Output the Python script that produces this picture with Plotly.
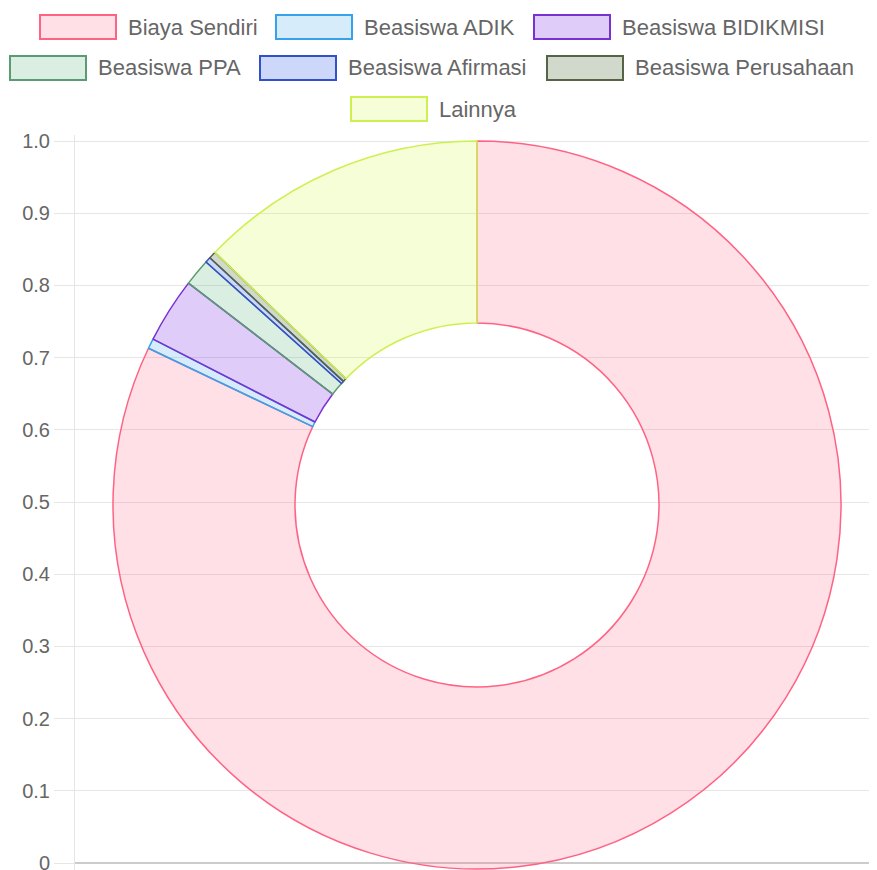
import plotly.graph_objects as go

labels = ["Biaya Sendiri", "Beasiswa ADIK", "Beasiswa BIDIKMISI", "Beasiswa PPA",
          "Beasiswa Afirmasi", "Beasiswa Perusahaan", "Lainnya"]
values = [82.1, 0.45, 2.9, 1.2, 0.25, 0.32, 12.8]
fill_colors = ["rgba(255,99,132,0.2)", "rgba(54,162,235,0.2)", "rgba(130,50,230,0.25)",
               "rgba(75,170,110,0.2)", "rgba(40,80,230,0.23)", "rgba(70,100,50,0.25)",
               "rgba(210,250,60,0.2)"]
border_colors = ["rgb(255,99,132)", "rgb(54,162,235)", "rgb(120,50,210)",
                 "rgb(90,155,115)", "rgb(50,80,200)", "rgb(85,100,70)",
                 "rgb(205,240,80)"]
y_ticks = [0, 0.1, 0.2, 0.3, 0.4, 0.5, 0.6, 0.7, 0.8, 0.9, 1.0]
y_ticktext = ["0", "0.1", "0.2", "0.3", "0.4", "0.5", "0.6", "0.7", "0.8", "0.9", "1.0"]

# page has an 8px body margin; figure is sized to fill the rest of the window
OFF = 8
W, H = 877 - OFF, 870 - OFF
ML, MR, MT, MB = 75 - OFF, 0, 135 - OFF, 0
PW, PH = W - ML - MR, H - MT - MB

def px_x(x):  # screenshot pixel -> paper
    return (x - OFF - ML) / PW

def px_y(y):
    return (H - MB - (y - OFF)) / PH

FONT = "Liberation Sans, Arial, Helvetica, sans-serif"
GREY = "#666666"

fig = go.Figure()
fig.add_trace(go.Scatter(x=[0.5], y=[0.5], mode="markers", marker=dict(opacity=0),
                         hoverinfo="skip", showlegend=False))

fig.add_trace(go.Pie(
    labels=labels, values=values, sort=False, direction="clockwise", rotation=0,
    hole=0.5, textinfo="none", showlegend=False,
    marker=dict(colors=fill_colors, line=dict(color=border_colors, width=1.5)),
    domain=dict(x=[px_x(113), px_x(841)], y=[max(0, px_y(869)), px_y(141)]),
))

legend_rows = [
    [(0, 40), (1, 276), (2, 534)],
    [(3, 10), (4, 260), (5, 547)],
    [(6, 351)],
]
row_centers = [27, 68, 109]
shapes = []
annotations = []
for row, yc in zip(legend_rows, row_centers):
    for idx, x0 in row:
        shapes.append(dict(type="rect", xref="paper", yref="paper",
                           x0=px_x(x0), x1=px_x(x0 + 76), y0=px_y(yc + 12), y1=px_y(yc - 12),
                           fillcolor=fill_colors[idx], line=dict(color=border_colors[idx], width=2)))
        annotations.append(dict(xref="paper", yref="paper", x=px_x(x0 + 86), y=px_y(yc),
                                text=labels[idx], showarrow=False, xanchor="left", yanchor="middle",
                                font=dict(family=FONT, size=22, color=GREY)))

fig.update_layout(
    width=W, height=H,
    margin=dict(l=ML, r=MR, t=MT, b=MB, autoexpand=False),
    paper_bgcolor="white", plot_bgcolor="white",
    shapes=shapes, annotations=annotations,
    font=dict(family=FONT, size=20, color=GREY),
    xaxis=dict(range=[0, 1], showgrid=False, zeroline=False, showticklabels=False,
               showline=False, fixedrange=True, automargin=False),
    yaxis=dict(range=[-7 / 722, 1 + 6 / 722], tickvals=y_ticks, ticktext=y_ticktext,
               showgrid=True, gridcolor="#e6e6e6", gridwidth=1,
               zeroline=True, zerolinecolor="#cccccc", zerolinewidth=1.5,
               showline=True, linecolor="#e6e6e6", linewidth=1,
               ticks="outside", ticklen=20, tickcolor="#e6e6e6", tickwidth=1,
               ticklabeloverflow="allow", automargin=False,
               tickfont=dict(family=FONT, size=20, color=GREY), fixedrange=True),
)

fig.write_html("out.html")
